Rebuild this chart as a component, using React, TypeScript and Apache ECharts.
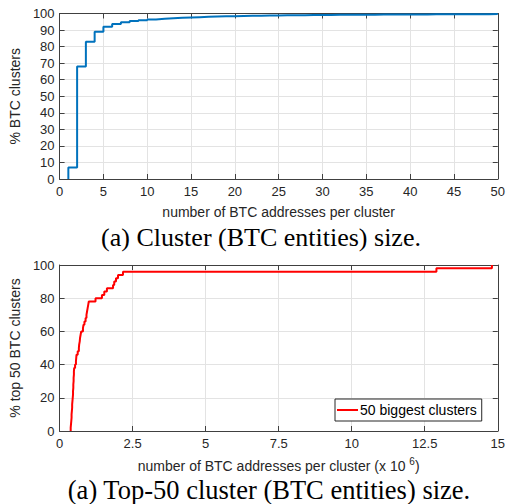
import React, { useEffect, useRef } from "react";
import * as echarts from "echarts";

// ---- Data: chart (a) top: CDF of cluster size (1..50 addresses) ----
const topSizes = [
  1, 2, 3, 4, 5, 6, 7, 8, 9, 10, 11, 12, 13, 14, 15, 16, 17, 18, 19, 20, 21, 22, 23, 24, 25,
  26, 27, 28, 29, 30, 31, 32, 33, 34, 35, 36, 37, 38, 39, 40, 41, 42, 43, 44, 45, 46, 47, 48, 49, 50,
];
const topPercent = [
  7, 68, 83, 89, 92, 93.7, 94.7, 95.4, 95.9, 96.4, 96.8, 97.1, 97.4, 97.6, 97.8, 98.0, 98.15, 98.3,
  98.4, 98.5, 98.6, 98.7, 98.8, 98.85, 98.9, 98.95, 99.0, 99.05, 99.1, 99.15, 99.2, 99.22, 99.25,
  99.3, 99.32, 99.35, 99.38, 99.4, 99.42, 99.45, 99.47, 99.5, 99.52, 99.54, 99.56, 99.58, 99.6,
  99.62, 99.64, 99.66,
];

// ---- Data: chart (a) bottom: CDF of the 50 biggest clusters (size in millions) ----
const bigSizes = [
  0.38, 0.39, 0.4, 0.41, 0.41, 0.42, 0.43, 0.43, 0.44, 0.45, 0.46, 0.46, 0.47, 0.47, 0.48, 0.48,
  0.49, 0.49, 0.5, 0.53, 0.56, 0.57, 0.58, 0.62, 0.66, 0.67, 0.69, 0.7, 0.72, 0.74, 0.8, 0.82, 0.85,
  0.89, 0.92, 0.94, 0.96, 0.98, 1.0, 1.23, 1.45, 1.53, 1.62, 1.83, 1.87, 1.93, 2.0, 2.17, 12.9, 14.8,
];
const bigPercent = [
  2, 4, 6, 8, 10, 12, 14, 16, 18, 20, 22, 24, 26, 28, 30, 32, 34, 36, 38, 40, 42, 44, 46, 48, 50,
  52, 54, 56, 58, 60, 62, 64, 66, 68, 70, 72, 74, 76, 78, 80, 82, 84, 86, 88, 90, 92, 94, 96, 98, 100,
];

const topXTicks = [0, 50, 5];
const topYTicks = [0, 100, 10];
const botXTicks = [0, 15, 2.5];
const botYTicks = [0, 100, 20];

const seriesName = "50 biggest clusters";
const topXName = "number of BTC addresses per cluster";
const topYName = "% BTC clusters";
const botXName = "number of BTC addresses per cluster (x 10 {sup|6})";
const botYName = "% top 50 BTC clusters";
const captionTop = "(a) Cluster (BTC entities) size.";
const captionBot = "(a) Top-50 cluster (BTC entities) size.";

const AX = "#404040";
const LBL = "#262626";
const GRID = "#e3e3e3";
const FONT = "'Liberation Sans', Arial, sans-serif";
const SERIF = "'Liberation Serif', 'Times New Roman', serif";

function mainAxis(
  kind: "x" | "y",
  gridIndex: number,
  ticks: number[],
  name: string,
  nameGap: number
): any {
  return {
    type: "value",
    gridIndex,
    position: kind === "x" ? "bottom" : "left",
    min: ticks[0],
    max: ticks[1],
    interval: ticks[2],
    name,
    nameLocation: "middle",
    nameGap,
    nameTextStyle: {
      color: LBL,
      fontSize: 14,
      fontFamily: FONT,
      rich: { sup: { fontSize: 10, color: LBL, fontFamily: FONT, padding: [0, 0, 10, 0] } },
    },
    axisLine: { show: true, onZero: false, lineStyle: { color: AX, width: 1 } },
    axisTick: { show: true, inside: true, length: 5, lineStyle: { color: AX } },
    axisLabel: {
      color: LBL,
      fontSize: 13,
      fontFamily: FONT,
      margin: kind === "x" ? 6 : 5,
      showMaxLabel: true,
      showMinLabel: true,
    },
    splitLine: { show: true, lineStyle: { color: GRID, width: 1 } },
  };
}

function mirrorAxis(kind: "x" | "y", gridIndex: number, ticks: number[]): any {
  return {
    type: "value",
    gridIndex,
    position: kind === "x" ? "top" : "right",
    min: ticks[0],
    max: ticks[1],
    interval: ticks[2],
    axisLine: { show: true, onZero: false, lineStyle: { color: AX, width: 1 } },
    axisTick: { show: true, inside: true, length: 5, lineStyle: { color: AX } },
    axisLabel: { show: false },
    splitLine: { show: false },
  };
}

function stairs(xs: number[], ys: number[]): number[][] {
  const pts: number[][] = [[xs[0], 0]];
  for (let i = 0; i < xs.length; i++) pts.push([xs[i], ys[i]]);
  return pts;
}

export default function App() {
  const ref = useRef<HTMLDivElement>(null);
  useEffect(() => {
    if (!ref.current) return;
    const chart = echarts.init(ref.current, undefined, { renderer: "svg" });
    chart.setOption({
      animation: false,
      backgroundColor: "#ffffff",
      grid: [
        { left: 58, right: 9, top: 13.5, height: 165.5 },
        { left: 58, right: 9, top: 265, height: 166 },
      ],
      xAxis: [
        mainAxis("x", 0, topXTicks, topXName, 26),
        mirrorAxis("x", 0, topXTicks),
        mainAxis("x", 1, botXTicks, botXName, 25),
        mirrorAxis("x", 1, botXTicks),
      ],
      yAxis: [
        mainAxis("y", 0, topYTicks, topYName, 26),
        mirrorAxis("y", 0, topYTicks),
        mainAxis("y", 1, botYTicks, botYName, 26),
        mirrorAxis("y", 1, botYTicks),
      ],
      legend: {
        data: [seriesName],
        left: 335,
        top: 399,
        padding: [4, 5, 4, 2],
        icon: "rect",
        itemWidth: 21,
        itemHeight: 2,
        itemGap: 4,
        backgroundColor: "#ffffff",
        borderColor: "#262626",
        borderWidth: 1,
        textStyle: { color: "#000000", fontSize: 14, fontFamily: FONT, padding: [0, 0, 0, -3] },
      },
      series: [
        {
          type: "line",
          name: "all clusters",
          xAxisIndex: 0,
          yAxisIndex: 0,
          step: "end",
          showSymbol: false,
          symbol: "none",
          lineStyle: { color: "#0072BD", width: 2 },
          itemStyle: { color: "#0072BD" },
          data: stairs(topSizes, topPercent),
          z: 3,
        },
        {
          type: "line",
          name: seriesName,
          xAxisIndex: 2,
          yAxisIndex: 2,
          step: "end",
          showSymbol: false,
          symbol: "none",
          lineStyle: { color: "#ff0000", width: 2 },
          itemStyle: { color: "#ff0000" },
          data: stairs(bigSizes, bigPercent),
          z: 3,
        },
      ],
      graphic: [
        {
          type: "text",
          x: 261,
          y: 237,
          style: {
            text: captionTop,
            font: "26px " + SERIF,
            fill: "#000",
            align: "center",
            verticalAlign: "middle",
          },
        },
        {
          type: "text",
          x: 269,
          y: 489.5,
          style: {
            text: captionBot,
            font: "26.5px " + SERIF,
            fill: "#000",
            align: "center",
            verticalAlign: "middle",
          },
        },
      ],
    });
    return () => chart.dispose();
  }, []);
  return (
    <div
      ref={ref}
      style={{ position: "absolute", left: 0, top: 0, width: 508, height: 504 }}
    />
  );
}
